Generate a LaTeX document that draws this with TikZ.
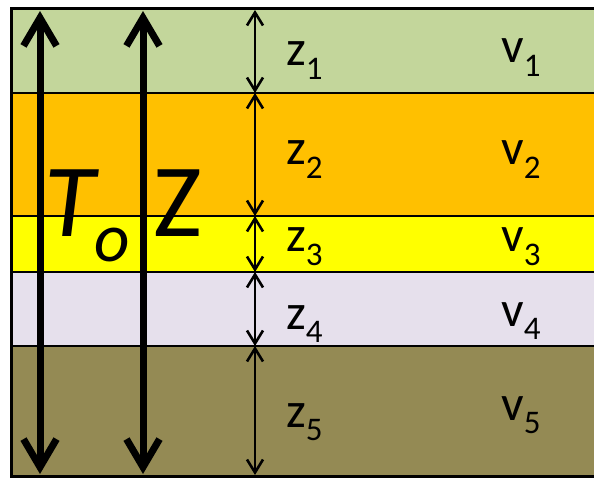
\documentclass[tikz,border=0pt]{standalone}
\usepackage{fontspec}
\setmainfont{Carlito}
\usetikzlibrary{arrows.meta}
\definecolor{lay1}{HTML}{C3D69B}
\definecolor{lay2}{HTML}{FFC000}
\definecolor{lay3}{HTML}{FFFF00}
\definecolor{lay4}{HTML}{E6E0EC}
\definecolor{lay5}{HTML}{948A54}
\newcommand\lowsub[1]{\raisebox{-0.27em}{\fontsize{33}{33}\selectfont #1}}
\begin{document}
\begin{tikzpicture}[x=1pt,y=-1pt,
  lbl/.style={anchor=base west,inner sep=0pt,font=\fontsize{50}{60}\selectfont},
  bound/.style={line width=2.5pt,black},
  bigarrow/.style={line width=7pt,{Straight Barb[length=28pt,width=33pt]}-{Straight Barb[length=28pt,width=33pt]}},
  thinarrow/.style={line width=2.2pt,{Straight Barb[length=13pt,width=16pt,line width=2.6pt]}-{Straight Barb[length=13pt,width=16pt,line width=2.6pt]}}]
\useasboundingbox (0,0) rectangle (594,478);
\fill[white] (0,0) rectangle (594,478);
% layers
\fill[lay1] (11.5,8.5) rectangle (594,93);
\fill[lay2] (11.5,93) rectangle (594,216);
\fill[lay3] (11.5,216) rectangle (594,272);
\fill[lay4] (11.5,272) rectangle (594,346);
\fill[lay5] (11.5,346) rectangle (594,476.5);
% boundaries
\foreach \yy in {93,216,272,346} \draw[bound] (11.5,\yy) -- (594,\yy);
\draw[line width=3pt] (594,8.5) -- (11.5,8.5) -- (11.5,476.5) -- (594,476.5);
% coordinates
\coordinate (A1) at (40,11);
\coordinate (A2) at (40,474);
\coordinate (B1) at (143,11);
\coordinate (B2) at (143,474);
\coordinate (c0) at (255,10);
\coordinate (c1) at (255,93);
\coordinate (c2) at (255,216);
\coordinate (c3) at (255,272);
\coordinate (c4) at (255,346);
\coordinate (c5) at (255,475);
% big arrows
\draw[bigarrow] (A1) -- (A2);
\draw[bigarrow] (B1) -- (B2);
% thin arrows
\draw[thinarrow] (c0) -- (c1);
\draw[thinarrow] (c1) -- (c2);
\draw[thinarrow] (c2) -- (c3);
\draw[thinarrow] (c3) -- (c4);
\draw[thinarrow] (c4) -- (c5);
% big labels
\node[anchor=base west,inner sep=0pt,font=\fontsize{104}{110}\selectfont\itshape] (To) at (44,237) {T\raisebox{-0.24em}{\fontsize{69}{70}\selectfont o}};
\node[anchor=base west,inner sep=0pt,font=\fontsize{104}{110}\selectfont] (Z) at (153,237) {Z};
% layer labels
\node[lbl] (z1) at (286,66) {z\lowsub{1}};
\node[lbl] (z2) at (286,165) {z\lowsub{2}};
\node[lbl] (z3) at (286,252) {z\lowsub{3}};
\node[lbl] (z4) at (286,329) {z\lowsub{4}};
\node[lbl] (z5) at (286,427) {z\lowsub{5}};
\node[lbl] (v1) at (501,63) {v\lowsub{1}};
\node[lbl] (v2) at (501,165) {v\lowsub{2}};
\node[lbl] (v3) at (501,252) {v\lowsub{3}};
\node[lbl] (v4) at (501,326) {v\lowsub{4}};
\node[lbl] (v5) at (501,420) {v\lowsub{5}};
\end{tikzpicture}
\end{document}
